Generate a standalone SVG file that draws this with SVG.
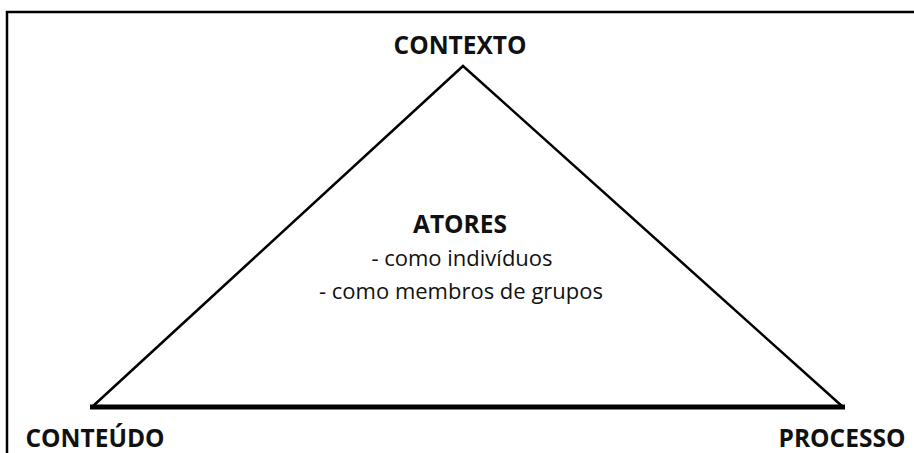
<svg xmlns="http://www.w3.org/2000/svg" width="914" height="453" viewBox="0 0 914 453">
<style>
.t{font-family:"Open Sans","Liberation Sans",sans-serif;fill:#111;text-anchor:middle}
.b{font-weight:bold;font-size:24.5px}
.r{font-size:22px}
</style>
<rect width="914" height="453" fill="#fff"/>
<path d="M7,453 V12 H914" fill="none" stroke="#000" stroke-width="2.5"/>
<g id="connectors">
<path d="M92,407 L463,66 L843,407" fill="none" stroke="#000" stroke-width="2.5" stroke-linejoin="miter"/>
<line x1="90" y1="407" x2="845" y2="407" stroke="#000" stroke-width="5"/>
</g>
<g id="contexto"><text class="t b" x="460" y="54">CONTEXTO</text></g>
<g id="atores">
<text class="t b" x="460" y="233">ATORES</text>
<text class="t r" x="462" y="266">- como indivíduos</text>
<text class="t r" x="461" y="299">- como membros de grupos</text>
</g>
<g id="conteudo"><text class="t b" x="95" y="447">CONTEÚDO</text></g>
<g id="processo"><text class="t b" x="842" y="447">PROCESSO</text></g>
</svg>
